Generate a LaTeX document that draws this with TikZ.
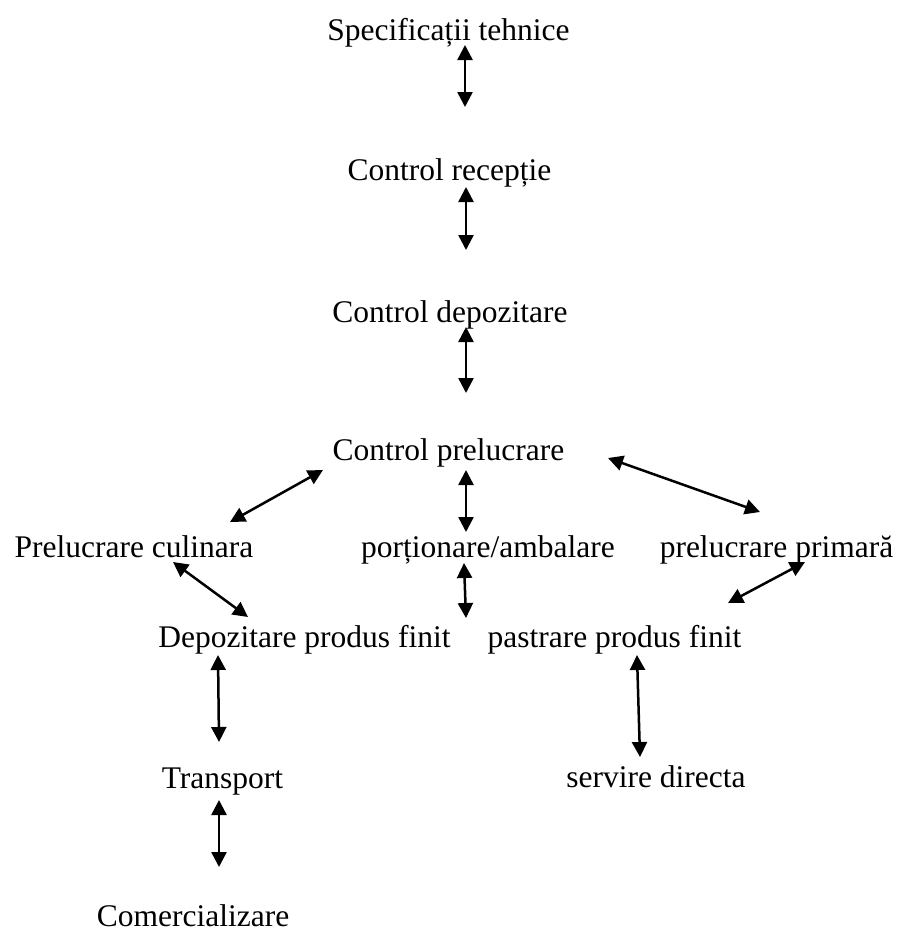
\documentclass[tikz,border=0pt]{standalone}
\usepackage{fontspec}
\setmainfont{Liberation Serif}
\usetikzlibrary{arrows.meta}
\begin{document}
\begin{tikzpicture}[x=1pt,y=-1pt,
  lbl/.style={anchor=base,inner sep=0pt,font=\fontsize{31.5}{36}\selectfont},
  link/.style={line width=2.5pt,{Triangle[length=15pt,width=15pt]}-{Triangle[length=15pt,width=15pt]}}]
\useasboundingbox (0,0) rectangle (898,932);

% stages of the flow
\node[lbl] (spec)  at (448.5,40)  {Specificații tehnice};
\node[lbl] (recv)  at (449.5,180) {Control recepție};
\node[lbl] (depo)  at (450,322)   {Control depozitare};
\node[lbl] (prel)  at (448.5,460) {Control prelucrare};
\node[lbl] (cul)   at (134,557)   {Prelucrare culinara};
\node[lbl] (port)  at (488,557)   {porționare/ambalare};
\node[lbl] (prim)  at (776.5,557) {prelucrare primară};
\node[lbl] (depf)  at (304.5,647) {Depozitare produs finit};
\node[lbl] (past)  at (614.5,647) {pastrare produs finit};
\node[lbl] (trans) at (222.5,788) {Transport};
\node[lbl] (serv)  at (656,787)   {servire directa};
\node[lbl] (com)   at (193,926)   {Comercializare};

% arrow end points next to the labels
\coordinate (spec-s)  at (465,45);
\coordinate (recv-n)  at (465,107);
\coordinate (recv-s)  at (466,187);
\coordinate (depo-n)  at (466,250);
\coordinate (depo-s)  at (466,327);
\coordinate (prel-n)  at (466,393);
\coordinate (prel-w)  at (323,470);
\coordinate (cul-ne)  at (230,522);
\coordinate (prel-s)  at (466,470);
\coordinate (port-n)  at (466,532);
\coordinate (prel-e)  at (608,458);
\coordinate (prim-nw) at (760,512);
\coordinate (port-s)  at (464,563);
\coordinate (depf-ne) at (466,618);
\coordinate (cul-se)  at (173,562);
\coordinate (depf-n)  at (248,617);
\coordinate (prim-s)  at (805,562);
\coordinate (past-ne) at (728,603);
\coordinate (depf-s)  at (218,655);
\coordinate (trans-n) at (219,742);
\coordinate (trans-s) at (219,800);
\coordinate (com-n)   at (219,867);
\coordinate (past-s)  at (637,655);
\coordinate (serv-n)  at (640,757);

% two-way connectors
\draw[link] (spec-s) -- (recv-n);
\draw[link] (recv-s) -- (depo-n);
\draw[link] (depo-s) -- (prel-n);
\draw[link] (prel-w) -- (cul-ne);
\draw[link] (prel-s) -- (port-n);
\draw[link] (prel-e) -- (prim-nw);
\draw[link] (port-s) -- (depf-ne);
\draw[link] (cul-se) -- (depf-n);
\draw[link] (prim-s) -- (past-ne);
\draw[link] (depf-s) -- (trans-n);
\draw[link] (trans-s) -- (com-n);
\draw[link] (past-s) -- (serv-n);
\end{tikzpicture}
\end{document}
